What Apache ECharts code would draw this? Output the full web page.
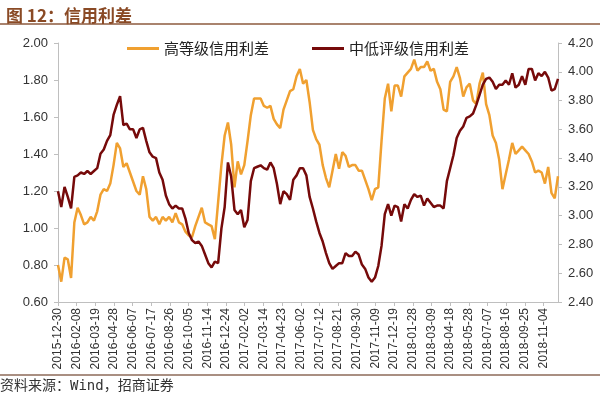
<!DOCTYPE html>
<html>
<head>
    <meta charset="utf-8">
    <title>信用利差</title>
    <style>
    html,body { height:100%; width:100%; margin:0; padding:0; background:#fff; }
    </style>
</head>
<body>
<div id="main" style="width:600px;height:399px;"></div>
<script src="https://cdn.jsdelivr.net/npm/echarts@6/dist/echarts.min.js"></script>
<script type="text/javascript">
    // 日期轴：2015-12-30 起逐日，共 1072 天，每 40 天一个标签
    var startDate = '2015-12-30';
    var dayCount = 1072;
    var labelEvery = 40;
    // 读图取值：每 7 天一个点
    var sampleStep = 7;
    var seriesNames = ['高等级信用利差', '中低评级信用利差'];

    // 高等级信用利差（左轴）
    var highGrade = [
        0.80,0.71,0.84,0.83,0.73,1.03,1.11,1.07,1.02,1.03,1.06,1.04,1.09,1.18,1.21,1.20,
        1.24,1.34,1.46,1.43,1.33,1.35,1.30,1.25,1.20,1.18,1.28,1.21,1.06,1.04,1.06,1.02,
        1.06,1.04,1.06,1.03,1.08,1.03,1.02,0.98,0.96,0.95,1.01,1.06,1.11,1.03,1.02,1.01,
        0.94,1.14,1.34,1.50,1.57,1.45,1.22,1.36,1.29,1.34,1.47,1.61,1.70,1.70,
        1.70,1.66,1.65,1.66,1.59,1.56,1.54,1.64,1.69,1.74,1.75,1.82,1.86,1.78,1.80,1.68,
        1.53,1.48,1.45,1.34,1.27,1.22,1.31,1.40,1.32,1.41,1.39,1.33,1.34,1.34,1.31,
        1.31,1.26,1.21,1.15,1.21,1.22,1.47,1.70,1.78,1.63,1.77,1.77,1.71,1.82,1.84,1.86,
        1.91,1.85,1.87,1.87,1.90,1.85,1.86,1.79,1.75,1.64,1.63,1.79,1.82,1.87,
        1.81,1.71,1.76,1.78,1.69,1.67,1.78,1.84,1.67,1.61,1.50,1.46,1.37,1.21,1.29,1.37,
        1.46,1.40,1.42,1.44,1.42,1.40,1.36,1.30,1.31,1.30,1.24,1.33,1.19,1.16,1.28
    ];
    // 中低评级信用利差（右轴）
    var lowGrade = [
        3.17,3.06,3.20,3.13,3.05,3.27,3.28,3.30,3.29,3.31,3.29,3.31,3.33,3.43,3.46,3.52,
        3.56,3.70,3.77,3.83,3.63,3.64,3.60,3.60,3.54,3.60,3.61,3.52,3.44,3.41,3.40,3.30,
        3.25,3.14,3.08,3.05,3.07,3.05,3.05,2.98,2.88,2.83,2.81,2.82,2.79,2.73,2.67,2.64,
        2.68,2.67,2.91,3.06,3.37,3.27,3.04,3.01,3.04,2.92,2.97,3.24,3.33,3.34,
        3.35,3.33,3.32,3.37,3.33,3.22,3.08,3.17,3.15,3.11,3.25,3.28,3.33,3.33,3.28,3.13,
        3.05,2.96,2.88,2.82,2.74,2.67,2.63,2.65,2.67,2.67,2.74,2.72,2.72,2.75,2.73,
        2.66,2.63,2.57,2.54,2.57,2.65,2.79,3.01,3.08,3.00,3.07,3.06,2.96,3.08,3.05,3.11,
        3.15,3.13,3.14,3.07,3.12,3.09,3.06,3.07,3.07,3.05,3.24,3.33,3.42,3.54,
        3.59,3.62,3.68,3.69,3.71,3.77,3.84,3.91,3.95,3.96,3.93,3.88,3.91,3.91,3.94,3.91,
        3.99,3.89,3.91,3.97,3.91,4.02,4.02,3.94,3.99,3.97,4.00,3.96,3.87,3.88,3.95
    ];

    function pad(n) { return n < 10 ? '0' + n : '' + n; }

    var dates = [];
    var t0 = Date.parse(startDate + 'T00:00:00Z');
    for (var i = 0; i < dayCount; i++) {
        var d = new Date(t0 + i * 86400000);
        dates.push(d.getUTCFullYear() + '-' + pad(d.getUTCMonth() + 1) + '-' + pad(d.getUTCDate()));
    }

    // 把读到的点放到对应日期上，其余日期留空
    function placeOnDays(values) {
        var out = [];
        for (var i = 0; i < dayCount; i++) out.push(null);
        for (var k = 0; k < values.length; k++) out[k * sampleStep] = values[k];
        return out;
    }

    var fontLatin = 'Liberation Sans, Arial, sans-serif';
    var fontCJK = 'Noto Sans CJK SC, sans-serif';
    var axisGray = '#BFBFBF';

    var myChart = echarts.init(document.getElementById('main'));
    var options = {
        animation: false,
        backgroundColor: '#fff',
        title: {
            text: '图 12：信用利差',
            left: 1,
            top: 2,
            textStyle: { fontSize: 17, fontWeight: 'bold', color: '#8A4A25', fontFamily: fontCJK }
        },
        graphic: [
            { type: 'line', shape: { x1: 0, y1: 24, x2: 600, y2: 24 }, style: { stroke: '#8C5A3E', lineWidth: 1.5 } },
            { type: 'line', shape: { x1: 0, y1: 375, x2: 600, y2: 375 }, style: { stroke: '#8C6A58', lineWidth: 1.5 } },
            { type: 'text', left: 0, top: 379,
              style: { text: '资料来源：Wind，招商证券', fontSize: 14, fill: '#333',
                       fontFamily: 'DejaVu Sans Mono, Noto Sans CJK SC, monospace' } }
        ],
        legend: {
            data: seriesNames,
            left: 127,
            top: 41,
            padding: 0,
            icon: 'rect',
            itemWidth: 32,
            itemHeight: 3,
            itemGap: 43,
            textStyle: { fontSize: 15, color: '#222', fontFamily: fontCJK }
        },
        grid: { left: 58, right: 42, top: 43, bottom: 97 },
        xAxis: {
            type: 'category',
            boundaryGap: false,
            data: dates,
            axisLine: { lineStyle: { color: axisGray } },
            axisTick: { show: true, interval: labelEvery - 1, length: 4, lineStyle: { color: axisGray } },
            axisLabel: {
                interval: labelEvery - 1,
                rotate: 90,
                margin: 6,
                fontSize: 12,
                color: '#333',
                fontFamily: fontLatin
            },
            splitLine: { show: false }
        },
        yAxis: [
            {
                type: 'value',
                min: 0.6,
                max: 2.0,
                interval: 0.2,
                axisLine: { show: true, lineStyle: { color: axisGray } },
                axisTick: { show: true, length: 4, lineStyle: { color: axisGray } },
                axisLabel: {
                    margin: 10, fontSize: 13, color: '#333', fontFamily: fontLatin,
                    formatter: function (v) { return v.toFixed(2); }
                },
                splitLine: { show: false }
            },
            {
                type: 'value',
                min: 2.4,
                max: 4.2,
                interval: 0.2,
                axisLine: { show: true, lineStyle: { color: axisGray } },
                axisTick: { show: true, length: 4, lineStyle: { color: axisGray } },
                axisLabel: {
                    margin: 10, fontSize: 13, color: '#333', fontFamily: fontLatin,
                    formatter: function (v) { return v.toFixed(2); }
                },
                splitLine: { show: false }
            }
        ],
        series: [
            {
                name: seriesNames[0],
                type: 'line',
                yAxisIndex: 0,
                data: placeOnDays(highGrade),
                connectNulls: true,
                showSymbol: false,
                symbol: 'none',
                lineStyle: { width: 2.5, color: '#F0A030' },
                itemStyle: { color: '#F0A030' }
            },
            {
                name: seriesNames[1],
                type: 'line',
                yAxisIndex: 1,
                data: placeOnDays(lowGrade),
                connectNulls: true,
                showSymbol: false,
                symbol: 'none',
                lineStyle: { width: 2.5, color: '#760A0A' },
                itemStyle: { color: '#760A0A' }
            }
        ]
    };
    myChart.setOption(options);
</script>
</body>
</html>
